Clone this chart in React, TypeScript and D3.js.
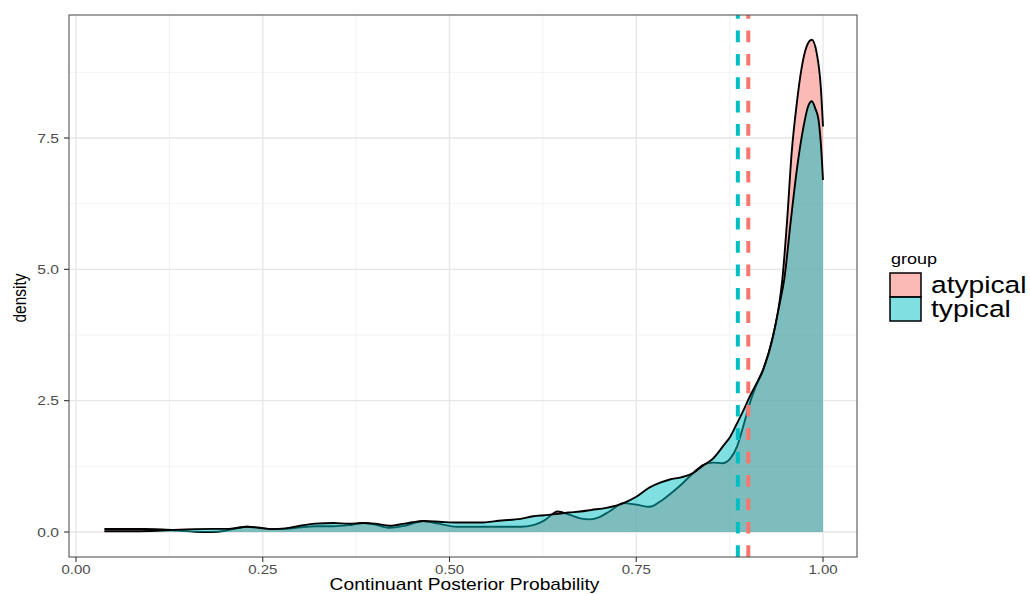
import React from 'react';
import * as d3 from 'd3';

// ---------- data ----------
const groups = ['atypical', 'typical'];
const groupColors = ['#F8766D', '#00BFC4'];
const groupMeans = [0.9, 0.886];

const atypicalX = [0.038, 0.06, 0.09, 0.115, 0.135, 0.16, 0.18, 0.2, 0.215, 0.229, 0.245, 0.262, 0.28, 0.3, 0.32, 0.345, 0.365, 0.385, 0.4, 0.42, 0.44, 0.465, 0.485, 0.51, 0.54, 0.57, 0.595, 0.612, 0.627, 0.645, 0.66, 0.675, 0.688, 0.7, 0.715, 0.733, 0.75, 0.768, 0.782, 0.795, 0.81, 0.826, 0.84, 0.853, 0.866, 0.876, 0.885, 0.893, 0.902, 0.91, 0.92, 0.933, 0.942, 0.9455, 0.952, 0.958, 0.965, 0.971, 0.978, 0.985, 0.9915, 0.997, 1.0];
const atypicalY = [0.057, 0.058, 0.056, 0.05, 0.03, 0.005, 0.0, 0.025, 0.07, 0.1, 0.08, 0.055, 0.06, 0.09, 0.11, 0.11, 0.13, 0.17, 0.14, 0.08, 0.12, 0.21, 0.16, 0.1, 0.1, 0.1, 0.1, 0.13, 0.22, 0.39, 0.33, 0.26, 0.24, 0.28, 0.4, 0.55, 0.52, 0.48, 0.58, 0.72, 0.9, 1.12, 1.28, 1.32, 1.31, 1.4, 1.63, 2.0, 2.45, 2.77, 3.08, 3.72, 4.4, 4.8, 5.94, 7.21, 8.17, 8.8, 9.24, 9.37, 9.12, 8.48, 7.72];

const typicalX = [0.038, 0.07, 0.1, 0.13, 0.16, 0.185, 0.205, 0.229, 0.245, 0.262, 0.28, 0.3, 0.32, 0.345, 0.365, 0.385, 0.4, 0.42, 0.44, 0.465, 0.49, 0.51, 0.54, 0.57, 0.595, 0.612, 0.627, 0.642, 0.66, 0.675, 0.69, 0.71, 0.733, 0.75, 0.768, 0.782, 0.795, 0.81, 0.826, 0.84, 0.853, 0.866, 0.876, 0.885, 0.893, 0.902, 0.91, 0.92, 0.933, 0.942, 0.948, 0.957, 0.965, 0.974, 0.98, 0.985, 0.99, 0.994, 0.998, 1.0];
const typicalY = [0.015, 0.015, 0.02, 0.04, 0.055, 0.06, 0.06, 0.1, 0.08, 0.055, 0.07, 0.12, 0.16, 0.17, 0.16, 0.17, 0.16, 0.12, 0.16, 0.21, 0.19, 0.18, 0.18, 0.22, 0.25, 0.3, 0.32, 0.34, 0.37, 0.39, 0.42, 0.46, 0.55, 0.67, 0.85, 0.94, 1.0, 1.04, 1.12, 1.27, 1.4, 1.63, 1.82, 2.07, 2.3, 2.58, 2.8, 3.1, 3.72, 4.35, 4.8, 5.94, 6.9, 7.72, 8.1, 8.2, 8.05, 7.85, 7.21, 6.7];

const seriesX = [atypicalX, typicalX];
const seriesY = [atypicalY, typicalY];

const xTicks = [0, 0.25, 0.5, 0.75, 1.0];
const xTickLabels = ['0.00', '0.25', '0.50', '0.75', '1.00'];
const xMinor = [0.125, 0.375, 0.625, 0.875];
const yTicks = [0, 2.5, 5, 7.5];
const yTickLabels = ['0.0', '2.5', '5.0', '7.5'];
const yMinor = [1.25, 3.75, 6.25, 8.75];

const xTitle = 'Continuant Posterior Probability';
const yTitle = 'density';
const legendTitle = 'group';

const FONT = '"Liberation Sans", Arial, Helvetica, sans-serif';
const SX = 1.2; // horizontal text stretch seen in the reference

export default function App() {
  const W = 1030;
  const H = 594;
  const panel = { left: 69, right: 857, top: 15, bottom: 557 };
  const x = d3.scaleLinear().domain([0, 1]).range([76, 823]);
  const y = d3.scaleLinear().domain([0, 7.5]).range([532, 138]);

  const areaFor = (xs: number[], ys: number[]) =>
    d3
      .area<number>()
      .x((_, i) => x(xs[i]))
      .y0(y(0))
      .y1((d) => y(d))
      .curve(d3.curveMonotoneX)(ys) as string;
  const lineFor = (xs: number[], ys: number[]) =>
    d3
      .line<number>()
      .x((_, i) => x(xs[i]))
      .y((d) => y(d))
      .curve(d3.curveMonotoneX)(ys) as string;

  const legendX = 890;
  const legendKeyW = 31;
  const legendKeyH = 24;
  const legendTop = 273;

  return (
    <svg
      width={W}
      height={H}
      style={{ position: 'absolute', left: 0, top: 0, background: '#fff' }}
      fontFamily={FONT}
    >
      <rect x={0} y={0} width={W} height={H} fill="#fff" />
      {/* grid */}
      {xMinor.map((v) => (
        <line key={'xm' + v} x1={x(v)} x2={x(v)} y1={panel.top} y2={panel.bottom} stroke="#EFEFEF" strokeWidth={0.8} />
      ))}
      {yMinor.map((v) => (
        <line key={'ym' + v} x1={panel.left} x2={panel.right} y1={y(v)} y2={y(v)} stroke="#EFEFEF" strokeWidth={0.8} />
      ))}
      {xTicks.map((v) => (
        <line key={'xg' + v} x1={x(v)} x2={x(v)} y1={panel.top} y2={panel.bottom} stroke="#E6E6E6" strokeWidth={1.3} />
      ))}
      {yTicks.map((v) => (
        <line key={'yg' + v} x1={panel.left} x2={panel.right} y1={y(v)} y2={y(v)} stroke="#E6E6E6" strokeWidth={1.3} />
      ))}

      {/* densities */}
      {groups.map((g, i) => (
        <g key={g}>
          <path d={areaFor(seriesX[i], seriesY[i])} fill={groupColors[i]} fillOpacity={0.5} stroke="none" />
          <path d={lineFor(seriesX[i], seriesY[i])} fill="none" stroke="#000" strokeWidth={1.9} />
        </g>
      ))}

      {/* mean lines */}
      {groups.map((g, i) => (
        <line
          key={'v' + g}
          x1={x(groupMeans[i])}
          x2={x(groupMeans[i])}
          y1={panel.bottom}
          y2={panel.top}
          stroke={groupColors[i]}
          strokeWidth={4}
          strokeDasharray="11.7 11.7"
        />
      ))}

      {/* panel border */}
      <rect
        x={panel.left}
        y={panel.top}
        width={panel.right - panel.left}
        height={panel.bottom - panel.top}
        fill="none"
        stroke="#555"
        strokeWidth={1.1}
      />

      {/* x axis */}
      {xTicks.map((v, i) => (
        <g key={'xt' + v}>
          <line x1={x(v)} x2={x(v)} y1={panel.bottom} y2={panel.bottom + 5} stroke="#333" strokeWidth={1.1} />
          <text
            transform={`translate(${x(v)},${574}) scale(${SX},1)`}
            textAnchor="middle"
            fontSize={12.5}
            fill="#4D4D4D"
          >
            {xTickLabels[i]}
          </text>
        </g>
      ))}
      {/* y axis */}
      {yTicks.map((v, i) => (
        <g key={'yt' + v}>
          <line x1={panel.left - 5} x2={panel.left} y1={y(v)} y2={y(v)} stroke="#333" strokeWidth={1.1} />
          <text
            transform={`translate(${panel.left - 10},${y(v) + 4.6}) scale(${SX},1)`}
            textAnchor="end"
            fontSize={13}
            fill="#4D4D4D"
          >
            {yTickLabels[i]}
          </text>
        </g>
      ))}

      {/* axis titles */}
      <text
        transform={`translate(${(x(0) + x(1)) / 2 + 15},${589.5}) scale(${SX},1)`}
        textAnchor="middle"
        fontSize={16}
        fill="#000"
      >
        {xTitle}
      </text>
      <text
        transform={`translate(${26},${298}) scale(${SX},1) rotate(-90)`}
        textAnchor="middle"
        fontSize={15.5}
        fill="#000"
      >
        {yTitle}
      </text>

      {/* legend */}
      <text transform={`translate(${legendX + 1},${264}) scale(${SX},1)`} fontSize={15} fill="#000">
        {legendTitle}
      </text>
      {groups.map((g, i) => (
        <g key={'lg' + g}>
          <rect
            x={legendX}
            y={legendTop + i * legendKeyH}
            width={legendKeyW}
            height={legendKeyH}
            fill={groupColors[i]}
            fillOpacity={0.5}
            stroke="#000"
            strokeWidth={1.5}
          />
          <text
            transform={`translate(${legendX + 41},${legendTop + i * legendKeyH + 20}) scale(${SX},1)`}
            fontSize={23.5}
            fill="#000"
          >
            {g}
          </text>
        </g>
      ))}
    </svg>
  );
}
